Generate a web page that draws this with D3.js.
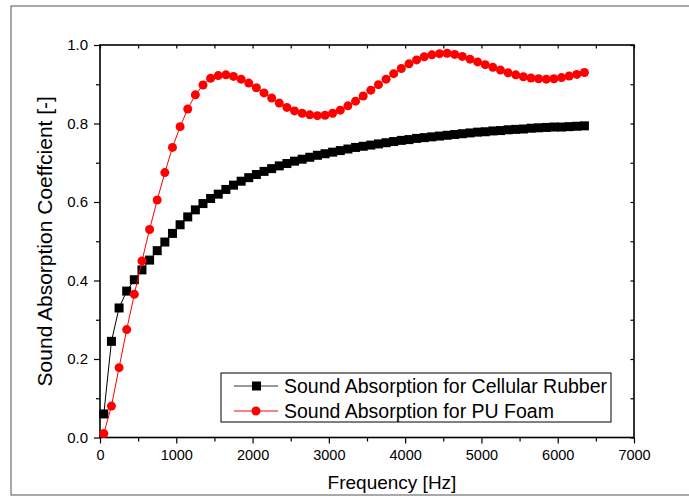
<!DOCTYPE html>
<html>
<head>
<meta charset="utf-8">
<script src="https://cdn.jsdelivr.net/npm/d3@7"></script>
<style>
  body { margin: 0; background: #fff; }
  text { font-family: "Liberation Sans", Arial, sans-serif; fill: #000; }
</style>
</head>
<body>
<svg id="chart" width="689" height="498"></svg>
<script>
// frequency points [Hz]
var freq = [50, 150, 250, 350, 450, 550, 650, 750, 850, 950,
  1050, 1150, 1250, 1350, 1450, 1550, 1650, 1750, 1850, 1950,
  2050, 2150, 2250, 2350, 2450, 2550, 2650, 2750, 2850, 2950,
  3050, 3150, 3250, 3350, 3450, 3550, 3650, 3750, 3850, 3950,
  4050, 4150, 4250, 4350, 4450, 4550, 4650, 4750, 4850, 4950,
  5050, 5150, 5250, 5350, 5450, 5550, 5650, 5750, 5850, 5950,
  6050, 6150, 6250, 6350];

var rubber = [0.060, 0.245, 0.330, 0.373, 0.402, 0.427, 0.452, 0.476, 0.498, 0.520,
  0.542, 0.562, 0.580, 0.596, 0.609, 0.620, 0.632, 0.643, 0.653, 0.662,
  0.670, 0.678, 0.685, 0.692, 0.698, 0.704, 0.709, 0.714, 0.719, 0.723,
  0.727, 0.731, 0.735, 0.739, 0.742, 0.745, 0.748, 0.751, 0.754, 0.757,
  0.759, 0.762, 0.764, 0.766, 0.768, 0.770, 0.772, 0.774, 0.776, 0.778,
  0.779, 0.781, 0.782, 0.784, 0.785, 0.786, 0.788, 0.789, 0.790, 0.791,
  0.791, 0.792, 0.793, 0.794];

var foam = [0.010, 0.080, 0.178, 0.275, 0.365, 0.450, 0.530, 0.605, 0.675, 0.739,
  0.792, 0.837, 0.873, 0.898, 0.915, 0.922, 0.924, 0.920, 0.913, 0.903,
  0.891, 0.878, 0.865, 0.852, 0.841, 0.832, 0.826, 0.822, 0.820, 0.821,
  0.826, 0.834, 0.845, 0.857, 0.870, 0.885, 0.899, 0.913, 0.927, 0.940,
  0.952, 0.962, 0.970, 0.975, 0.978, 0.979, 0.976, 0.971, 0.964, 0.957,
  0.950, 0.943, 0.936, 0.929, 0.924, 0.919, 0.916, 0.914, 0.913, 0.914,
  0.917, 0.921, 0.925, 0.930];

var xMajor = [0, 1000, 2000, 3000, 4000, 5000, 6000, 7000];
var xMinor = [500, 1500, 2500, 3500, 4500, 5500, 6500];
var yMajor = [0, 0.2, 0.4, 0.6, 0.8, 1.0];
var yMinor = [0.1, 0.3, 0.5, 0.7, 0.9];

var legendNames = ["Sound Absorption for Cellular Rubber", "Sound Absorption for PU Foam"];

var svg = d3.select('#chart');
var pLeft = 100, pRight = 634, pTop = 45, pBottom = 437.5;

// outer frame
svg.append('rect')
  .attr('x', 11).attr('y', 6).attr('width', 700).attr('height', 489)
  .style('fill', 'none').style('stroke', '#555').style('stroke-width', 1);

var x = d3.scaleLinear().domain([0, 7000]).range([pLeft, pRight]);
var y = d3.scaleLinear().domain([0, 1]).range([pBottom, pTop]);

function styleAxis(g) {
  g.select('.domain').remove();
  g.selectAll('line').style('stroke', '#000').style('stroke-width', 1.2);
}

// bottom axis
svg.append('g').attr('transform', 'translate(0,' + pBottom + ')')
  .call(d3.axisBottom(x).tickValues(xMajor).tickSize(6).tickPadding(6).tickFormat(d3.format('d')))
  .call(styleAxis)
  .selectAll('text').style('font-size', '14.5px');
svg.append('g').attr('transform', 'translate(0,' + pBottom + ')')
  .call(d3.axisBottom(x).tickValues(xMinor).tickSize(4).tickFormat(''))
  .call(styleAxis);

// left axis
svg.append('g').attr('transform', 'translate(' + pLeft + ',0)')
  .call(d3.axisLeft(y).tickValues(yMajor).tickSize(6).tickPadding(6).tickFormat(d3.format('.1f')))
  .call(styleAxis)
  .selectAll('text').style('font-size', '15px');
svg.append('g').attr('transform', 'translate(' + pLeft + ',0)')
  .call(d3.axisLeft(y).tickValues(yMinor).tickSize(4).tickFormat(''))
  .call(styleAxis);

// top & right axes, ticks inward
svg.append('g').attr('transform', 'translate(0,' + pTop + ')')
  .call(d3.axisTop(x).tickValues(xMajor.concat(xMinor)).tickSize(-3.5).tickFormat(''))
  .call(styleAxis);
svg.append('g').attr('transform', 'translate(' + pRight + ',0)')
  .call(d3.axisRight(y).tickValues(yMajor.concat(yMinor)).tickSize(-3.5).tickFormat(''))
  .call(styleAxis);

// plot frame
svg.append('rect')
  .attr('x', pLeft).attr('y', pTop).attr('width', pRight - pLeft).attr('height', pBottom - pTop)
  .style('fill', 'none').style('stroke', '#000').style('stroke-width', 1.6);

// axis titles
svg.append('text')
  .attr('x', 392).attr('y', 489)
  .attr('text-anchor', 'middle')
  .style('font-size', '19px')
  .text('Frequency [Hz]');

svg.append('text')
  .attr('transform', 'translate(52,' + ((pTop + pBottom) / 2) + ') rotate(-90)')
  .attr('text-anchor', 'middle')
  .style('font-size', '21px')
  .text('Sound Absorption Coeffcient [-]');

var line = d3.line()
  .x(function (d) { return x(d[0]); })
  .y(function (d) { return y(d[1]); });

var rubberPts = freq.map(function (f, i) { return [f, rubber[i]]; });
var foamPts = freq.map(function (f, i) { return [f, foam[i]]; });

// cellular rubber: black squares
svg.append('path').datum(rubberPts)
  .attr('d', line)
  .style('fill', 'none').style('stroke', '#000').style('stroke-width', 1);
svg.append('g').selectAll('rect')
  .data(rubberPts).enter().append('rect')
  .attr('x', function (d) { return x(d[0]) - 4.5; })
  .attr('y', function (d) { return y(d[1]) - 4.5; })
  .attr('width', 9).attr('height', 9)
  .style('fill', '#000');

// PU foam: red circles
svg.append('path').datum(foamPts)
  .attr('d', line)
  .style('fill', 'none').style('stroke', '#ff0000').style('stroke-width', 1);
svg.append('g').selectAll('circle')
  .data(foamPts).enter().append('circle')
  .attr('cx', function (d) { return x(d[0]); })
  .attr('cy', function (d) { return y(d[1]); })
  .attr('r', 4.5)
  .style('fill', '#ff0000');

// legend
var lg = svg.append('g');
lg.append('rect')
  .attr('x', 221).attr('y', 373).attr('width', 390).attr('height', 49)
  .style('fill', '#fff').style('stroke', '#000').style('stroke-width', 1);

var rows = lg.selectAll('g.row')
  .data(legendNames).enter().append('g')
  .attr('class', 'row')
  .attr('transform', function (d, i) { return 'translate(0,' + (386 + i * 25) + ')'; });

rows.append('line')
  .attr('x1', 234).attr('x2', 278)
  .style('stroke', function (d, i) { return i === 0 ? '#333' : '#ff0000'; })
  .style('stroke-width', 1);

rows.filter(function (d, i) { return i === 0; })
  .append('rect')
  .attr('x', 252).attr('y', -4.5).attr('width', 9).attr('height', 9)
  .style('fill', '#000');
rows.filter(function (d, i) { return i === 1; })
  .append('circle')
  .attr('cx', 256).attr('r', 4.5)
  .style('fill', '#ff0000');

rows.append('text')
  .attr('x', 284).attr('dy', '0.35em')
  .style('font-size', '19.5px')
  .text(function (d) { return d; });
</script>
</body>
</html>
